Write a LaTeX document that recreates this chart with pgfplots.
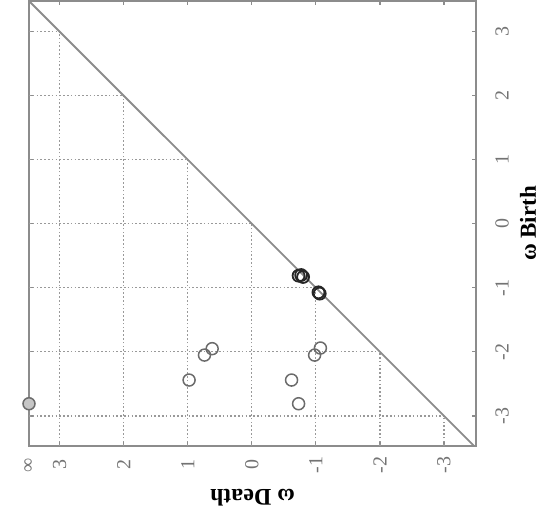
\documentclass[border=0pt]{standalone}
\usepackage{fontspec}
\setmainfont{Liberation Serif}
\usepackage{pgfplots}
\pgfplotsset{compat=1.18}
\definecolor{axgray}{gray}{0.55}
\definecolor{gridgray}{gray}{0.6}
\definecolor{ptgray}{gray}{0.42}
\definecolor{lblgray}{gray}{0.45}
\begin{document}
\begin{tikzpicture}
\path[use as bounding box] (-29bp,-76bp) rectangle (512bp,446bp);
\begin{axis}[
  at={(0,0)}, anchor=south west,
  scale only axis, width=447bp, height=445bp,
  xmin=-3.5, xmax=3.48, ymin=-3.47, ymax=3.48,
  x dir=reverse,
  clip mode=individual,
  axis line style={axgray, line width=1.8bp},
  tick style={axgray, line width=1.2bp},
  tick align=inside, major tick length=4bp,
  xtick={3.48,3,2,1,0,-1,-2,-3},
  xticklabels={∞,3,2,1,0,-1,-2,-3},
  ytick={-3,-2,-1,0,1,2,3},
  yticklabels={-3,-2,-1,0,1,2,3},
  xtick pos=both, ytick pos=both,
  yticklabel pos=right,
  xticklabel style={anchor=center, yshift=-19bp, rotate=90, text=lblgray, font=\fontsize{20}{20}\selectfont},
  yticklabel style={anchor=center, xshift=26bp, rotate=90, text=lblgray, font=\fontsize{20}{20}\selectfont},
]
% grid lines (lower-left triangle only)
\pgfplotsset{every axis plot/.append style={}}
\addplot[gridgray, line width=1.2bp, dash pattern=on 1.6bp off 2.2bp] coordinates {(3.48,3) (3,3)};
\addplot[gridgray, line width=1.2bp, dash pattern=on 1.6bp off 2.2bp] coordinates {(3.48,2) (2,2)};
\addplot[gridgray, line width=1.2bp, dash pattern=on 1.6bp off 2.2bp] coordinates {(3.48,1) (1,1)};
\addplot[gridgray, line width=1.2bp, dash pattern=on 1.6bp off 2.2bp] coordinates {(3.48,0) (0,0)};
\addplot[gridgray, line width=1.2bp, dash pattern=on 1.6bp off 2.2bp] coordinates {(3.48,-1) (-1,-1)};
\addplot[gridgray, line width=1.2bp, dash pattern=on 1.6bp off 2.2bp] coordinates {(3.48,-2) (-2,-2)};
\addplot[gridgray, line width=1.2bp, dash pattern=on 1.6bp off 2.2bp] coordinates {(3.48,-3) (-3,-3)};
\addplot[gridgray, line width=1.2bp, dash pattern=on 1.6bp off 2.2bp] coordinates {(3,-3.47) (3,3)};
\addplot[gridgray, line width=1.2bp, dash pattern=on 1.6bp off 2.2bp] coordinates {(2,-3.47) (2,2)};
\addplot[gridgray, line width=1.2bp, dash pattern=on 1.6bp off 2.2bp] coordinates {(1,-3.47) (1,1)};
\addplot[gridgray, line width=1.2bp, dash pattern=on 1.6bp off 2.2bp] coordinates {(0,-3.47) (0,0)};
\addplot[gridgray, line width=1.2bp, dash pattern=on 1.6bp off 2.2bp] coordinates {(-1,-3.47) (-1,-1)};
\addplot[gridgray, line width=1.2bp, dash pattern=on 1.6bp off 2.2bp] coordinates {(-2,-3.47) (-2,-2)};
\addplot[gridgray, line width=1.2bp, dash pattern=on 1.6bp off 2.2bp] coordinates {(-3,-3.47) (-3,-3)};
% diagonal
\addplot[axgray, line width=1.8bp] coordinates {(3.48,3.48) (-3.5,-3.5)};
% points
\addplot[only marks, mark=o, mark size=6bp, ptgray, mark options={line width=1.5bp}] coordinates {
(0.74,-2.05) (0.62,-1.95) (0.98,-2.44) (-0.62,-2.44) (-0.73,-2.81) (-0.98,-2.05) (-1.07,-1.94)};
\addplot[only marks, mark=o, mark size=6bp, black!85, mark options={line width=1.8bp}] coordinates {
(-0.73,-0.81) (-0.80,-0.83) (-0.77,-0.80) (-1.04,-1.07) (-1.06,-1.09)};
\addplot[only marks, mark=*, mark size=6bp, ptgray, mark options={line width=1.5bp, fill=gray!45}] coordinates {(3.48,-2.81)};
\end{axis}
\node[rotate=180, font=\fontsize{24}{24}\selectfont\bfseries] at (223.5bp,-52bp) {ω Death};
\node[rotate=90, font=\fontsize{23}{23}\selectfont\bfseries] at (499bp,222.5bp) {ω Birth};
\end{tikzpicture}
\end{document}
